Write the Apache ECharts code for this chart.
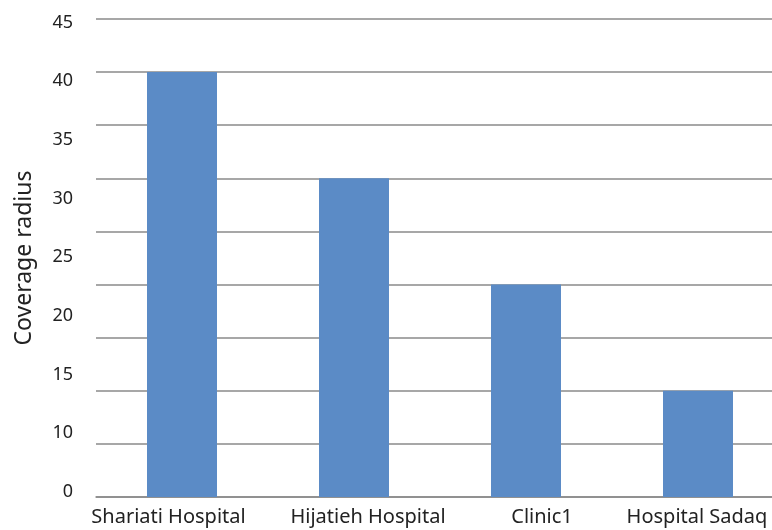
<!DOCTYPE html>
<html>
<head>
<meta charset="utf-8">
<script src="https://cdn.jsdelivr.net/npm/echarts@6/dist/echarts.min.js"></script>
<style>
    html, body { margin: 0; padding: 0; background: #fff; overflow: hidden; }
    /* 原图网格线延伸到右边缘之外，所以画布比窗口略宽 */
    #chart { width: 784px; height: 530px; }
</style>
</head>
<body>
<div id="chart"></div>
<script>
// 数据
var categories = ['Shariati Hospital', 'Hijatieh Hospital', 'Clinic1', 'Hospital Sadaq'];
var coverageRadius = [40, 30, 20, 10];
// 原图纵轴的刻度文字（与网格线不对齐，按原样保留）
var yTickLabels = ['0', '10', '15', '20', '25', '30', '35', '40', '45'];

var labelPositions = [];
for (var i = 0; i < yTickLabels.length; i++) labelPositions.push(i);

// 原图横轴文字没有正对柱子，用 padding 微调
var xLabelPad = [[0, 27, 0, 0], [0, 0, 0, 28], [0, 0, 0, 32], [0, 2, 0, 0]];
var xRich = {};
for (var j = 0; j < xLabelPad.length; j++) {
    xRich['l' + j] = { color: '#222', fontSize: 20, fontFamily: 'Noto Sans', padding: xLabelPad[j] };
}

var myChart = echarts.init(document.getElementById('chart'));
myChart.setOption({
    animation: false,
    textStyle: { fontFamily: 'Noto Sans' },
    grid: { left: 96, top: 19, right: 0, bottom: 33, containLabel: false },
    xAxis: {
        type: 'category',
        data: categories,
        axisLine: { lineStyle: { color: '#8a8a8a', width: 1.5 } },
        axisTick: { show: false },
        axisLabel: {
            color: '#222',
            fontSize: 20,
            margin: 10,
            interval: 0,
            formatter: function (value, index) {
                return '{l' + index + '|' + value + '}';
            },
            rich: xRich
        }
    },
    yAxis: [{
        type: 'value',
        min: 0,
        max: 45,
        interval: 5,
        axisLine: { show: false },
        axisTick: { show: false },
        axisLabel: { show: false },
        splitLine: { lineStyle: { color: '#8a8a8a', width: 1.5 } }
    }, {
        type: 'value',
        position: 'left',
        min: -0.085,
        max: 8.06,
        name: 'Coverage radius',
        nameLocation: 'middle',
        nameGap: 60,
        nameTextStyle: { color: '#222', fontSize: 23 },
        axisLine: { show: false },
        axisTick: { show: false },
        splitLine: { show: false },
        axisLabel: {
            customValues: labelPositions,
            color: '#222',
            fontSize: 18,
            margin: 23,
            formatter: function (value) {
                return yTickLabels[Math.round(value)];
            }
        }
    }],
    series: [{
        type: 'bar',
        data: coverageRadius,
        yAxisIndex: 0,
        barWidth: 70,
        itemStyle: { color: '#5B8BC6' }
    }]
});
</script>
</body>
</html>
